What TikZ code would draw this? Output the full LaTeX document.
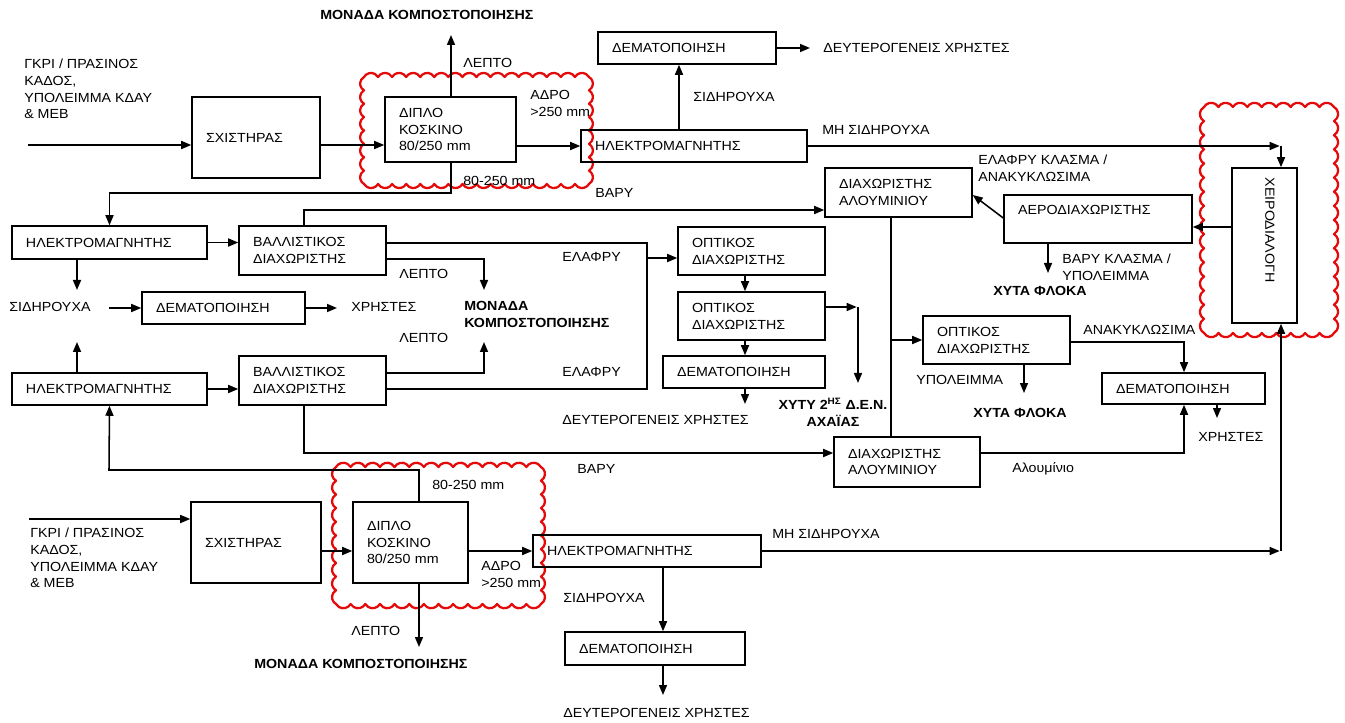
\documentclass[tikz,border=0pt]{standalone}
\usepackage{fontspec}
\setmainfont{Liberation Sans}[FakeStretch=1.08]
\usetikzlibrary{arrows.meta,calc}
\definecolor{cloudred}{RGB}{228,10,10}
\newcommand\myscallop[6]{%
  \pgfmathsetmacro\cldrh{(#3-#1)/#5*0.75/1.7320508}%
  \pgfmathsetmacro\cldrv{(#4-#2)/#6*0.75/1.7320508}%
  \draw[revcloud] (#1,#2)
    \foreach \i in {1,...,#5}{ arc[start angle=150,end angle=30,radius=\cldrh pt]}
    \foreach \i in {1,...,#6}{ arc[start angle=60,end angle=-60,radius=\cldrv pt]}
    \foreach \i in {1,...,#5}{ arc[start angle=-30,end angle=-150,radius=\cldrh pt]}
    \foreach \i in {1,...,#6}{ arc[start angle=240,end angle=120,radius=\cldrv pt]}
    -- cycle;%
}
\begin{document}
\begin{tikzpicture}[x=0.75pt,y=-0.75pt,
  every node/.style={font=\fontsize{9.9}{12.6}\selectfont},
  bx/.style={draw, line width=1.15pt, inner xsep=10.5pt, inner ysep=0pt, align=left},
  lbl/.style={inner sep=0pt, anchor=west, align=left},
  bl/.style={inner sep=0pt, anchor=west, align=left, font=\fontsize{9.9}{12.6}\selectfont\bfseries},
  ln/.style={line width=1.15pt},
  arr/.style={line width=1.15pt, -{Triangle[length=7.5pt,width=6pt]}},
  revcloud/.style={draw=cloudred, line width=1.7pt, line join=round}
]
\useasboundingbox (0,0) rectangle (1345,723);

% ---------- clouds ----------
\myscallop{364}{77}{589}{184}{16}{8}
\myscallop{1204}{107}{1334}{333}{9}{16}
\myscallop{336}{467}{541}{604}{14}{10}

% ---------- boxes ----------
\node[bx, minimum width=96pt, minimum height=60.75pt, text width=75pt] (sx1) at (256,137.5) {ΣΧΙΣΤΗΡΑΣ};
\node[bx, minimum width=98.25pt, minimum height=48.75pt, text width=77.25pt] (dp1) at (450.5,129.5) {ΔΙΠΛΟ\\ΚΟΣΚΙΝΟ\\80/250 mm};
\node[bx, minimum width=169.5pt, minimum height=24pt, text width=148.5pt] (em1) at (694,146) {ΗΛΕΚΤΡΟΜΑΓΝΗΤΗΣ};
\node[bx, minimum width=133.5pt, minimum height=24pt, text width=112.5pt] (dm1) at (687,48) {ΔΕΜΑΤΟΠΟΙΗΣΗ};
\node[bx, minimum width=110.25pt, minimum height=36.75pt, text width=89.25pt] (al1) at (898.5,192.5) {ΔΙΑΧΩΡΙΣΤΗΣ\\ΑΛΟΥΜΙΝΙΟΥ};
\node[bx, minimum width=141pt, minimum height=36pt, text width=120pt, text depth=13.5pt] (ae) at (1098,219) {ΑΕΡΟΔΙΑΧΩΡΙΣΤΗΣ};
\node[bx, minimum width=48.75pt, minimum height=116.25pt] (ch) at (1264.5,245.5) {};
\node[bx, minimum width=146.25pt, minimum height=24.75pt, text width=125.25pt] (em2) at (109.5,242.5) {ΗΛΕΚΤΡΟΜΑΓΝΗΤΗΣ};
\node[bx, minimum width=110.25pt, minimum height=36.75pt, text width=89.25pt] (bl1) at (312.5,250.5) {ΒΑΛΛΙΣΤΙΚΟΣ\\ΔΙΑΧΩΡΙΣΤΗΣ};
\node[bx, minimum width=122.25pt, minimum height=24pt, text width=101.25pt] (dm2) at (223.5,308) {ΔΕΜΑΤΟΠΟΙΗΣΗ};
\node[bx, minimum width=146.25pt, minimum height=24pt, text width=125.25pt] (em3) at (109.5,389) {ΗΛΕΚΤΡΟΜΑΓΝΗΤΗΣ};
\node[bx, minimum width=110.25pt, minimum height=36.75pt, text width=89.25pt] (bl2) at (312.5,380.5) {ΒΑΛΛΙΣΤΙΚΟΣ\\ΔΙΑΧΩΡΙΣΤΗΣ};
\node[bx, minimum width=110.25pt, minimum height=36pt, text width=89.25pt] (op1) at (751.5,251) {ΟΠΤΙΚΟΣ\\ΔΙΑΧΩΡΙΣΤΗΣ};
\node[bx, minimum width=110.25pt, minimum height=36pt, text width=89.25pt] (op2) at (751.5,316) {ΟΠΤΙΚΟΣ\\ΔΙΑΧΩΡΙΣΤΗΣ};
\node[bx, minimum width=121.5pt, minimum height=24pt, text width=100.5pt] (dm3) at (744,372) {ΔΕΜΑΤΟΠΟΙΗΣΗ};
\node[bx, minimum width=110.25pt, minimum height=36pt, text width=89.25pt] (op3) at (996.5,340) {ΟΠΤΙΚΟΣ\\ΔΙΑΧΩΡΙΣΤΗΣ};
\node[bx, minimum width=122.25pt, minimum height=23.25pt, text width=101.25pt] (dm4) at (1183.5,388.5) {ΔΕΜΑΤΟΠΟΙΗΣΗ};
\node[bx, minimum width=109.5pt, minimum height=37.5pt, text width=88.5pt] (al2) at (907,462) {ΔΙΑΧΩΡΙΣΤΗΣ\\ΑΛΟΥΜΙΝΙΟΥ};
\node[bx, minimum width=97.5pt, minimum height=60.75pt, text width=76.5pt] (sx2) at (256,542.5) {ΣΧΙΣΤΗΡΑΣ};
\node[bx, minimum width=86.25pt, minimum height=60.75pt, text width=65.25pt] (dp2) at (410.5,542.5) {ΔΙΠΛΟ\\ΚΟΣΚΙΝΟ\\80/250 mm};
\node[bx, minimum width=171pt, minimum height=24pt, text width=150pt] (em4) at (647,551) {ΗΛΕΚΤΡΟΜΑΓΝΗΤΗΣ};
\node[bx, minimum width=135pt, minimum height=24.75pt, text width=114pt] (dm5) at (655,648.5) {ΔΕΜΑΤΟΠΟΙΗΣΗ};

% ---------- labels ----------
\node[lbl, rotate=-90, anchor=center] (chl) at (1270,230) {ΧΕΙΡΟΔΙΑΛΟΓΗ};
\node[bl] (mon1) at (320,15) {ΜΟΝΑΔΑ ΚΟΜΠΟΣΤΟΠΟΙΗΣΗΣ};
\node[lbl] (inp1) at (24,89) {ΓΚΡΙ / ΠΡΑΣΙΝΟΣ\\ΚΑΔΟΣ,\\ΥΠΟΛΕΙΜΜΑ ΚΔΑΥ\\\& ΜΕΒ};
\node[lbl] (lep1) at (463,63) {ΛΕΠΤΟ};
\node[lbl] (adr1) at (530,103.5) {ΑΔΡΟ\\>250 mm};
\node[lbl] (r80a) at (463,181) {80-250 mm};
\node[lbl] (sid1) at (693,97) {ΣΙΔΗΡΟΥΧΑ};
\node[lbl] (dx1) at (823,48) {ΔΕΥΤΕΡΟΓΕΝΕΙΣ ΧΡΗΣΤΕΣ};
\node[lbl] (mh1) at (822,130) {ΜΗ ΣΙΔΗΡΟΥΧΑ};
\node[lbl] (bar1) at (595,193) {ΒΑΡΥ};
\node[lbl] (elk) at (978,168.5) {ΕΛΑΦΡΥ ΚΛΑΣΜΑ /\\ΑΝΑΚΥΚΛΩΣΙΜΑ};
\node[lbl] (bk) at (1062,267.5) {ΒΑΡΥ ΚΛΑΣΜΑ /\\ΥΠΟΛΕΙΜΜΑ};
\node[bl] (xf1) at (993,291) {ΧΥΤΑ ΦΛΟΚΑ};
\node[lbl] (ela1) at (562,257) {ΕΛΑΦΡΥ};
\node[lbl] (ela2) at (562,372) {ΕΛΑΦΡΥ};
\node[lbl] (lep2) at (399,274) {ΛΕΠΤΟ};
\node[lbl] (lep3) at (399,338) {ΛΕΠΤΟ};
\node[lbl] (sid2) at (9,307) {ΣΙΔΗΡΟΥΧΑ};
\node[lbl] (xr1) at (351,307) {ΧΡΗΣΤΕΣ};
\node[bl] (mon2) at (464,314.5) {ΜΟΝΑΔΑ\\ΚΟΜΠΟΣΤΟΠΟΙΗΣΗΣ};
\node[lbl] (dx2) at (562,420) {ΔΕΥΤΕΡΟΓΕΝΕΙΣ ΧΡΗΣΤΕΣ};
\node[bl, anchor=center, align=center] (xyty) at (833,412.5) {ΧΥΤΥ 2\textsuperscript{ΗΣ} Δ.Ε.Ν.\\ΑΧΑΪΑΣ};
\node[lbl] (anak) at (1083,330) {ΑΝΑΚΥΚΛΩΣΙΜΑ};
\node[lbl] (ypol) at (916,380) {ΥΠΟΛΕΙΜΜΑ};
\node[bl] (xf2) at (973,413) {ΧΥΤΑ ΦΛΟΚΑ};
\node[lbl] (xr2) at (1198,437) {ΧΡΗΣΤΕΣ};
\node[lbl] (alu) at (1012,469) {Αλουμίνιο};
\node[lbl] (bar2) at (577,469) {ΒΑΡΥ};
\node[lbl] (r80b) at (432,485) {80-250 mm};
\node[lbl] (inp2) at (30,558) {ΓΚΡΙ / ΠΡΑΣΙΝΟΣ\\ΚΑΔΟΣ,\\ΥΠΟΛΕΙΜΜΑ ΚΔΑΥ\\\& ΜΕΒ};
\node[lbl] (adr2) at (481,574.5) {ΑΔΡΟ\\>250 mm};
\node[lbl] (mh2) at (772,534) {ΜΗ ΣΙΔΗΡΟΥΧΑ};
\node[lbl] (lep4) at (351,631) {ΛΕΠΤΟ};
\node[bl] (mon3) at (254,664) {ΜΟΝΑΔΑ ΚΟΜΠΟΣΤΟΠΟΙΗΣΗΣ};
\node[lbl] (sid3) at (563,598) {ΣΙΔΗΡΟΥΧΑ};
\node[lbl] (dx3) at (563,713) {ΔΕΥΤΕΡΟΓΕΝΕΙΣ ΧΡΗΣΤΕΣ};

% ---------- free ends ----------
\coordinate (in1) at (28,145);
\coordinate (mk0) at (451,35);
\coordinate (c1) at (451,193);
\coordinate (t1) at (810,48);
\coordinate (k1) at (1281,146);
\coordinate (j1) at (647,243);
\coordinate (j2) at (647,389);
\coordinate (j3) at (647,258);
\coordinate (kc1) at (484,290);
\coordinate (kc2) at (484,342);
\coordinate (sd1) at (77,290);
\coordinate (sd2) at (77,342);
\coordinate (sd3) at (109,308);
\coordinate (t2) at (337,308);
\coordinate (v1) at (891,340);
\coordinate (t3) at (745,404);
\coordinate (p1) at (858,307);
\coordinate (p2) at (858,383);
\coordinate (f1) at (1048,273);
\coordinate (f2) at (1024,393);
\coordinate (t4) at (1217,418);
\coordinate (c2) at (109,470);
\coordinate (in2) at (29,519);
\coordinate (mk1) at (419,647);
\coordinate (k2) at (1281,551);
\coordinate (t5) at (663,695);

% ---------- connectors: top line ----------
\draw[arr] (in1) -- (sx1.west |- in1);
\draw[arr] (sx1.east |- in1) -- (dp1.west |- in1);
\draw[arr] (dp1.east |- em1) -- (em1.west);
\draw[arr] (dp1.north -| mk0) -- (mk0);
\draw[arr] (dp1.south -| c1) -- (c1) -| (em2.north);
\draw[arr] (em1.north -| 679,0) -- (dm1.south -| 679,0);
\draw[arr] (dm1.east) -- (t1);
\draw[arr] (em1.east) -- ([xshift=-1pt]k1);
\draw[arr] (k1) -- (ch.north -| k1);

% ---------- middle ----------
\draw[arr] (em2.east) -- (bl1.west |- em2.east);
\draw[arr] (em3.east) -- (bl2.west |- em3.east);
\draw[arr] (em2.south -| sd1) -- (sd1);
\draw[arr] (em3.north -| sd2) -- (sd2);
\draw[arr] (sd3) -- (dm2.west);
\draw[arr] (dm2.east) -- (t2);
\draw[arr] (bl1.north -| 304,0) |- (al1.west |- 0,210);
\draw[ln] (bl1.east |- j1) -- (j1) -- (j2) -- (bl2.east |- j2);
\draw[arr] (j3) -- (op1.west |- j3);
\draw[arr] (bl1.east |- 0,259) -| (kc1);
\draw[arr] (bl2.east |- 0,373) -| (kc2);
\draw[arr] (bl2.south -| 304,0) |- (al2.west |- 0,453);
\draw[ln] (al1.south -| v1) -- (al2.north -| v1);
\draw[arr] (v1) -- (op3.west);
\draw[arr] (op1.south -| t3) -- (op2.north -| t3);
\draw[arr] (op2.south -| t3) -- (dm3.north -| t3);
\draw[arr] (dm3.south -| t3) -- (t3);
\draw[arr] (op2.east |- p1) -- ([xshift=-1pt]p1);
\draw[arr] (p1) -- (p2);
\draw[arr] (ae.west |- 0,218) -- (al1.east |- 0,195);
\draw[arr] (ch.west |- 0,227) -- (ae.east |- 0,227);
\draw[arr] (ae.south -| f1) -- (f1);
\draw[arr] (op3.east |- 0,342) -| (dm4.north -| 1184,0);
\draw[arr] (op3.south -| f2) -- (f2);
\draw[arr] (dm4.south -| t4) -- (t4);
\draw[arr] (al2.east |- 0,453) -| (dm4.south -| 1184,0);
\draw[arr] (dp2.north -| mk1) |- (c2) -- (em3.south);

% ---------- bottom line ----------
\draw[arr] (in2) -- (sx2.west |- in2);
\draw[arr] (sx2.east |- 0,551) -- (dp2.west |- 0,551);
\draw[arr] (dp2.east |- em4) -- (em4.west);
\draw[arr] (dp2.south -| mk1) -- (mk1);
\draw[arr] (em4.east) -- ([xshift=-1pt]k2);
\draw[arr] (k2) -- (ch.south -| k2);
\draw[arr] (em4.south -| t5) -- (dm5.north -| t5);
\draw[arr] (dm5.south -| t5) -- (t5);
\end{tikzpicture}
\end{document}
